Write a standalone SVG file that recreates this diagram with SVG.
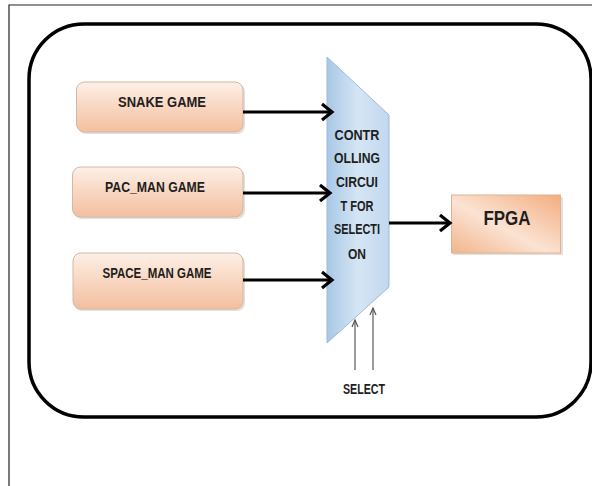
<svg xmlns="http://www.w3.org/2000/svg" width="592" height="486" viewBox="0 0 592 486">
  <defs>
    <linearGradient id="gBox" x1="0" y1="0" x2="0" y2="1">
      <stop offset="0" stop-color="#fdf0e7"/>
      <stop offset="0.45" stop-color="#f9d9c5"/>
      <stop offset="1" stop-color="#f3bf9f"/>
    </linearGradient>
    <linearGradient id="gFpga" x1="0" y1="1" x2="1" y2="0">
      <stop offset="0" stop-color="#f2b48c"/>
      <stop offset="0.45" stop-color="#fbe3d3"/>
      <stop offset="1" stop-color="#f3ad80"/>
    </linearGradient>
    <linearGradient id="gMux" x1="0" y1="0" x2="1" y2="0">
      <stop offset="0" stop-color="#a8c8e6"/>
      <stop offset="0.5" stop-color="#d5e5f4"/>
      <stop offset="1" stop-color="#c2d8ee"/>
    </linearGradient>
    <marker id="ah" markerUnits="userSpaceOnUse" markerWidth="16" markerHeight="20" viewBox="0 0 16 20" refX="12" refY="10" orient="auto" overflow="visible">
      <path d="M2,2 L12,10 L2,18" fill="none" stroke="#000" stroke-width="3.2"/>
    </marker>
    <marker id="sh" markerUnits="userSpaceOnUse" markerWidth="8" markerHeight="8" viewBox="0 0 8 8" refX="7" refY="4" orient="auto" overflow="visible">
      <path d="M0,1 L7,4 L0,7" fill="none" stroke="#555" stroke-width="1.2"/>
    </marker>
    <style>
      .frame{fill:none;stroke:#222;stroke-width:1.2}
      .outer{fill:none;stroke:#000;stroke-width:3.5}
      .box{fill:url(#gBox);stroke:#d2b8a6;stroke-width:1}
      .shadow{fill:#d9d2cc;opacity:0.7}
      .lbl{font-family:"Liberation Sans",Arial,sans-serif;font-weight:bold;fill:#1e1e1e;text-anchor:middle}
      .conn{fill:none;stroke:#000;stroke-width:3.2;marker-end:url(#ah)}
      .sel{fill:none;stroke:#666;stroke-width:1.3;marker-end:url(#sh)}
    </style>
  </defs>

  <path class="frame" d="M9,486 V5 H592"/>
  <rect id="container" class="outer" x="29" y="24" width="562" height="393" rx="55" ry="55"/>

  <g id="snake">
    <rect class="shadow" x="78" y="84" width="167" height="50" rx="8"/>
    <rect class="box" x="76.5" y="82" width="166.5" height="50" rx="8"/>
    <text class="lbl" x="162" y="107" font-size="14.5" textLength="88" lengthAdjust="spacingAndGlyphs">SNAKE GAME</text>
  </g>
  <g id="pacman">
    <rect class="shadow" x="74" y="169" width="171" height="50" rx="8"/>
    <rect class="box" x="72.5" y="167" width="170.5" height="50" rx="8"/>
    <text class="lbl" x="155" y="192" font-size="14.5" textLength="100" lengthAdjust="spacingAndGlyphs">PAC_MAN GAME</text>
  </g>
  <g id="spaceman">
    <rect class="shadow" x="74" y="255" width="171" height="56" rx="8"/>
    <rect class="box" x="73" y="253" width="170" height="56" rx="8"/>
    <text class="lbl" x="157" y="277.5" font-size="14.5" textLength="109" lengthAdjust="spacingAndGlyphs">SPACE_MAN GAME</text>
  </g>

  <g id="mux">
    <path d="M327,57 L389,115 L389,287 L327,343 Z" fill="url(#gMux)" stroke="#9bbbdc" stroke-width="1"/>
    <text class="lbl" x="357" y="139.5" font-size="14" textLength="45" lengthAdjust="spacingAndGlyphs">CONTR</text>
    <text class="lbl" x="357" y="162.5" font-size="14" textLength="46" lengthAdjust="spacingAndGlyphs">OLLING</text>
    <text class="lbl" x="357" y="186.5" font-size="14" textLength="42" lengthAdjust="spacingAndGlyphs">CIRCUI</text>
    <text class="lbl" x="357" y="210.5" font-size="14" textLength="33" lengthAdjust="spacingAndGlyphs">T FOR</text>
    <text class="lbl" x="357" y="233.5" font-size="14" textLength="46" lengthAdjust="spacingAndGlyphs">SELECTI</text>
    <text class="lbl" x="357" y="258.5" font-size="14" textLength="18" lengthAdjust="spacingAndGlyphs">ON</text>
  </g>

  <g id="fpga">
    <rect class="shadow" x="453" y="197" width="110" height="58"/>
    <rect x="451.5" y="195" width="109" height="58" fill="url(#gFpga)" stroke="#e0b293" stroke-width="1"/>
    <text class="lbl" x="507" y="224.5" font-size="21" textLength="47" lengthAdjust="spacingAndGlyphs">FPGA</text>
  </g>

  <g id="select-label">
    <text class="lbl" x="364" y="393.5" font-size="14" textLength="42" lengthAdjust="spacingAndGlyphs">SELECT</text>
  </g>

  <g id="connectors">
    <line class="conn" x1="243" y1="112" x2="332" y2="112"/>
    <line class="conn" x1="243" y1="193" x2="330" y2="193"/>
    <line class="conn" x1="243" y1="280" x2="332" y2="280"/>
    <line class="conn" x1="389" y1="223" x2="450" y2="223"/>
    <line class="sel" x1="355" y1="370" x2="355" y2="320"/>
    <line class="sel" x1="373" y1="370" x2="373" y2="308"/>
  </g>
</svg>
